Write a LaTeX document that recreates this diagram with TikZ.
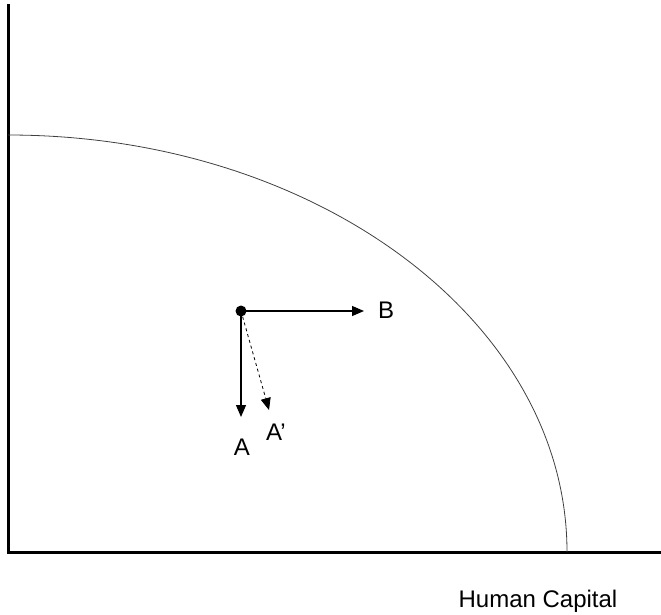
\documentclass[tikz,border=0pt]{standalone}
\usepackage{fontspec}
\setmainfont{Liberation Sans}
\usetikzlibrary{arrows.meta}
\begin{document}
\begin{tikzpicture}[x=1pt,y=-1pt,
  axis/.style={line width=3pt},
  vec/.style={line width=1.2pt,-{Triangle[length=12pt,width=10pt]}},
  lbl/.style={font=\fontsize{24}{26}\selectfont,inner sep=0pt,anchor=base}]
\useasboundingbox (0,0) rectangle (661,614);
\coordinate (O) at (8,552);
\coordinate (top) at (8,4);
\coordinate (right) at (661,552);
\draw[axis] (top) -- (O) -- (right);
\draw[line width=0.8pt,black!75] (8,135) arc[start angle=90,end angle=0,x radius=559,y radius=-417];
\node[circle,fill=black,minimum size=11pt,inner sep=0pt] (p) at (241,311) {};
\coordinate (bt) at (364,311);
\coordinate (at) at (241,417);
\coordinate (apt) at (269,410);
\draw[vec] (p.center) -- (bt);
\draw[vec] (p.center) -- (at);
\draw[vec,dashed,line width=0.8pt] (p.center) -- (apt);
\node[lbl] (B) at (386,318) {B};
\node[lbl] (A) at (242,455) {A};
\node[lbl] (Ap) at (276,440) {A’};
\node[lbl] (hc) at (538,607) {Human Capital};
\end{tikzpicture}
\end{document}
